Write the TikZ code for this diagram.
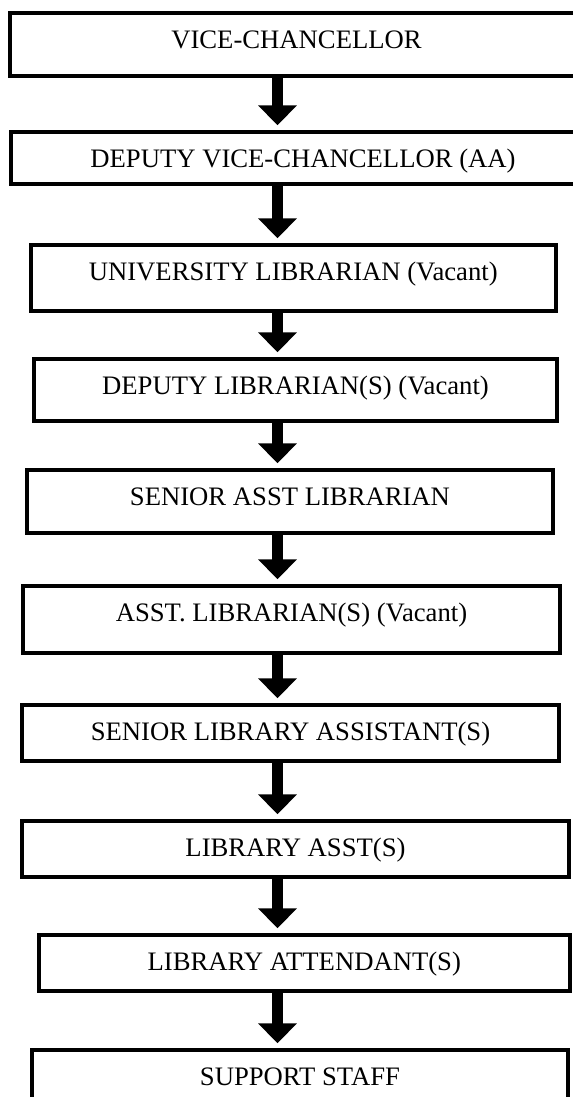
\documentclass[tikz,border=0pt]{standalone}
\usepackage{fontspec}
\setmainfont{Liberation Serif}
\usetikzlibrary{arrows.meta}

\begin{document}
\begin{tikzpicture}[x=0.75pt, y=-0.75pt,
  post/.style={draw, line width=3pt, rectangle, inner sep=0pt, anchor=base, text height=26.5pt, font=\fontsize{20}{24}\selectfont},
  down/.style={line width=8.6pt, -{Triangle[width=28.3pt,length=15pt]}, shorten >=3.5pt}]
\useasboundingbox (0,0) rectangle (572,1097);
\coordinate (spine) at (277.5,0);
\node[post, minimum width=429.75pt, text depth=20.8pt] (vc) at (296.5,48.3) {VICE-CHANCELLOR};
\node[post, minimum width=438pt, text depth=12.5pt] (dvc) at (303,167.3) {DEPUTY VICE-CHANCELLOR (AA)};
\node[post, minimum width=394pt, text depth=23pt] (ul) at (293.25,280.3) {UNIVERSITY LIBRARIAN (Vacant)};
\node[post, minimum width=392.25pt, text depth=20pt] (dl) at (295.5,394.3) {DEPUTY LIBRARIAN(S) (Vacant)};
\node[post, minimum width=394.5pt, text depth=20.8pt] (sal) at (290,505.3) {SENIOR ASST LIBRARIAN};
\node[post, minimum width=402.75pt, text depth=23.8pt] (al) at (291.5,621.3) {ASST. LIBRARIAN(S) (Vacant)};
\node[post, minimum width=402.75pt, text depth=15.5pt] (sla) at (290.5,740.3) {SENIOR LIBRARY ASSISTANT(S)};
\node[post, minimum width=410.25pt, text depth=15.5pt] (la) at (295.5,856.3) {LIBRARY ASST(S)};
\node[post, minimum width=398.6pt, text depth=15.5pt] (latt) at (304.25,970.3) {LIBRARY ATTENDANT(S)};
\node[post, minimum width=402pt, text depth=20pt] (ss) at (300,1085.3) {SUPPORT STAFF};
% arrows down the chain
\foreach \a/\b in {vc/dvc, dvc/ul, ul/dl, dl/sal, sal/al, al/sla, sla/la, la/latt, latt/ss}
  \draw[down] (\a.south -| spine) -- (\b.north -| spine);
\end{tikzpicture}
\end{document}
